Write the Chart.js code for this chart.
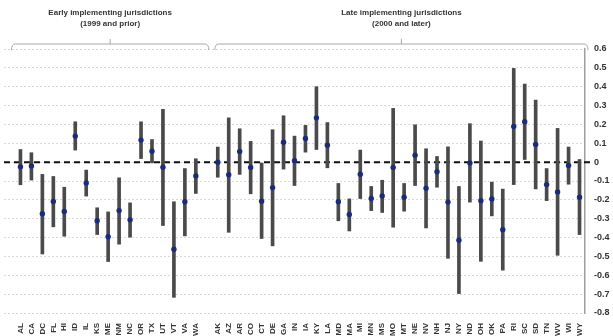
<!DOCTYPE html>
<html><head><meta charset="utf-8">
<script src="https://cdn.jsdelivr.net/npm/chart.js@4/dist/chart.umd.min.js"></script>
<style>html,body{margin:0;padding:0;background:#fff}#wrap{width:613px;height:336px}</style>
</head><body><div id="wrap"><canvas id="c" width="613" height="336"></canvas></div>
<script>
const earlyStates = ['AL','CA','DC','FL','HI','ID','IL','KS','ME','NM','NC','OR','TX','UT','VT','VA','WA'];
const earlyEst  = [-0.025,-0.02,-0.274,-0.209,-0.262,0.138,-0.111,-0.311,-0.396,-0.257,-0.306,0.117,0.058,-0.027,-0.462,-0.21,-0.073];
const earlyLow  = [-0.12,-0.095,-0.487,-0.343,-0.393,0.064,-0.18,-0.384,-0.527,-0.435,-0.398,0.019,-0.004,-0.336,-0.717,-0.391,-0.166];
const earlyHigh = [0.067,0.05,-0.065,-0.076,-0.133,0.214,-0.042,-0.242,-0.264,-0.083,-0.216,0.214,0.12,0.28,-0.21,-0.034,0.018];

const lateStates = ['AK','AZ','AR','CO','CT','DE','GA','IN','IA','KY','LA','MD','MA','MI','MN','MS','MO','MT','NE','NV','NH','NJ','NY','ND','OH','OK','PA','RI','SC','SD','TN','WV','WI','WY'];
const lateEst  = [0.0,-0.067,0.057,-0.028,-0.207,-0.135,0.106,0.007,0.126,0.235,0.09,-0.21,-0.278,-0.064,-0.193,-0.179,-0.028,-0.186,0.037,-0.138,-0.051,-0.212,-0.414,-0.004,-0.205,-0.195,-0.358,0.189,0.214,0.094,-0.119,-0.158,-0.018,-0.186];
const lateLow  = [-0.08,-0.372,-0.065,-0.168,-0.405,-0.444,-0.037,-0.124,0.053,0.067,-0.03,-0.311,-0.365,-0.193,-0.257,-0.267,-0.345,-0.26,-0.124,-0.349,-0.133,-0.51,-0.697,-0.212,-0.526,-0.285,-0.573,-0.119,0.014,-0.142,-0.204,-0.494,-0.117,-0.384];
const lateHigh = [0.08,0.235,0.177,0.11,-0.005,0.172,0.246,0.138,0.195,0.4,0.21,-0.113,-0.195,0.064,-0.129,-0.096,0.285,-0.113,0.198,0.071,0.03,0.081,-0.129,0.204,0.112,-0.106,-0.143,0.497,0.414,0.329,-0.034,0.179,0.08,0.014];

const groupTitles = [['Early implementing jurisdictions','(1999 and prior)'],['Late implementing jurisdictions','(2000 and later)']];
const yTicksMin = -0.8, yTicksMax = 0.6, yStep = 0.1;

const labels = [''].concat(earlyStates, [''], lateStates);
const est = [null].concat(earlyEst, [null], lateEst);
const ci = [null].concat(earlyLow.map((l,i)=>[l, earlyHigh[i]]), [null], lateLow.map((l,i)=>[l, lateHigh[i]]));
const gapIndex = earlyStates.length + 1;

const FONT = "'Liberation Sans', Arial, sans-serif";

const overlay = {
  id: 'overlay',
  beforeDatasetsDraw(chart) {
    const {ctx, chartArea, scales} = chart;
    const y0 = scales.y.getPixelForValue(0);
    ctx.save();
    ctx.strokeStyle = '#111';
    ctx.lineWidth = 2;
    ctx.setLineDash([6,4]);
    ctx.beginPath();
    ctx.moveTo(chartArea.left, y0);
    ctx.lineTo(chartArea.right + 5, y0);
    ctx.stroke();
    ctx.restore();
  },
  afterDraw(chart) {
    const {ctx, chartArea, scales} = chart;
    const x = scales.x;
    const eL = x.getPixelForValue(0) + 2;
    const eR = x.getPixelForValue(gapIndex) + 2;
    const lL = x.getPixelForValue(gapIndex) + 8;
    const lR = chartArea.right + 3;
    const by = chartArea.top - 5;
    ctx.save();
    ctx.strokeStyle = '#a8a8a8';
    ctx.lineWidth = 1;
    [[eL,eR],[lL,lR]].forEach(([a,b], gi) => {
      const m = (a+b)/2;
      ctx.beginPath();
      ctx.moveTo(a, by+6);
      ctx.quadraticCurveTo(a, by, a+4, by);
      ctx.lineTo(b-4, by);
      ctx.quadraticCurveTo(b, by, b, by+6);
      ctx.moveTo(m, by);
      ctx.lineTo(m, by-5);
      ctx.stroke();
      ctx.fillStyle = '#333';
      ctx.font = 'bold 8px ' + FONT;
      ctx.textAlign = 'center';
      ctx.textBaseline = 'middle';
      ctx.fillText(groupTitles[gi][0], m, 13);
      ctx.fillText(groupTitles[gi][1], m, 24);
    });
    ctx.restore();
  }
};

new Chart(document.getElementById('c'), {
  data: {
    labels: labels,
    datasets: [
      { type: 'line', data: est, showLine: false, pointRadius: 2.7, pointBackgroundColor: '#1a2b7e', pointBorderWidth: 0, order: 0 },
      { type: 'bar', data: ci, backgroundColor: '#4a4a4a', barThickness: 3, borderWidth: 0, order: 1 }
    ]
  },
  options: {
    responsive: false,
    animation: false,
    layout: { padding: { top: 49, left: 2, right: 0, bottom: 0 } },
    plugins: { legend: { display: false }, tooltip: { enabled: false } },
    scales: {
      x: {
        type: 'category',
        offset: true,
        grid: { display: false },
        border: { display: false },
        ticks: { autoSkip: false, minRotation: 90, maxRotation: 90, padding: 2, color: '#333', font: { family: FONT, size: 8, weight: 'bold' } },
        afterFit(s) { s.height = 23; }
      },
      y: {
        position: 'right',
        min: yTicksMin, max: yTicksMax,
        grid: { color: '#d8d8d8', drawTicks: false, lineWidth: 1 },
        border: { display: true, color: '#a0a0a0', width: 1.5, dash: [2,2] },
        ticks: {
          stepSize: yStep, padding: 9, color: '#333',
          font: { family: FONT, size: 9, weight: 'bold' },
          callback: v => { const r = Math.round(v*10)/10; return r === 0 ? '0' : r.toFixed(1); }
        },
        afterFit(s) { s.width = 28; }
      }
    }
  },
  plugins: [overlay]
});
</script>
</body></html>
